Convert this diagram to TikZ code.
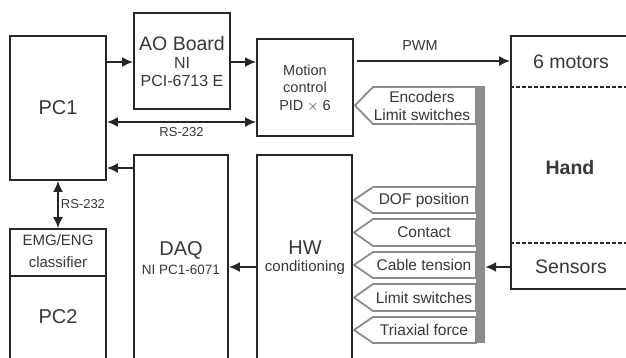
\documentclass[tikz,border=0pt]{standalone}
\usepackage{fontspec}
\setmainfont{Liberation Sans}
\usetikzlibrary{arrows.meta}
\begin{document}
\begin{tikzpicture}[x=1pt,y=-1pt,
  box/.style={draw=black!85,line width=1.8pt,inner sep=0pt,fill=white},
  arr/.style={line width=1.8pt,draw=black!85,-{Latex[length=11pt,width=10pt]}},
  darr/.style={line width=1.8pt,draw=black!85,{Latex[length=11pt,width=10pt]}-{Latex[length=11pt,width=10pt]}},
  tagshape/.style={draw=black!45,line width=1.8pt,fill=white,line join=miter},
  txt/.style={text=black!78,inner sep=0pt,align=center},
  dsh/.style={line width=1.5pt,draw=black!85,dash pattern=on 4pt off 2pt}]
\useasboundingbox (0,0) rectangle (626,357);
\clip (0,0) rectangle (626,357);
% boxes
\node[box,minimum width=96pt,minimum height=144pt] (pc1) at (58,108) {};
\node[box,minimum width=96pt,minimum height=96pt] (ao) at (182,61) {};
\node[box,minimum width=96pt,minimum height=97pt] (mc) at (305,87.5) {};
\node[box,minimum width=94pt,minimum height=210pt] (daq) at (181,260) {};
\node[box,minimum width=95pt,minimum height=210pt] (hw) at (304.5,260) {};
\node[box,minimum width=96pt,minimum height=47pt] (emg) at (58,252.5) {};
\node[box,minimum width=96pt,minimum height=90pt] (pc2) at (58,321) {};
\node[box,minimum width=130pt,minimum height=253pt] (hand) at (576,162.5) {};
\draw[dsh] (hand.west |- 0,87) coordinate (d1) -- (hand.east |- 0,87);
\draw[dsh] (hand.west |- 0,243) coordinate (d2) -- (hand.east |- 0,243);
% gray bar
\node[fill=black!45,inner sep=0pt,minimum width=9pt,minimum height=257pt] (bar) at (480.5,214.5) {};
% texts
\node[txt,font=\fontsize{20}{24}\selectfont] (tpc1) at (58,108) {PC1};
\node[txt,font=\fontsize{19.5}{20}\selectfont] (tao) at (182,44) {AO Board};
\node[txt,font=\fontsize{16}{18.5}\selectfont] (tao2) at (182,72) {NI\\PCI-6713 E};
\node[txt,font=\fontsize{14.5}{17.5}\selectfont] (tmc) at (305,88) {Motion\\control\\PID $\times$ 6};
\node[txt,font=\fontsize{20}{24}\selectfont] (tdaq) at (181,250) {DAQ};
\node[txt,font=\fontsize{13.5}{14}\selectfont] (tdaq2) at (181,270) {NI PC1-6071};
\node[txt,font=\fontsize{20}{24}\selectfont] (thw) at (305,248) {HW};
\node[txt,font=\fontsize{15}{14}\selectfont] (thw2) at (305,268) {conditioning};
\node[txt,font=\fontsize{15}{22}\selectfont] (temg) at (58,251) {EMG/ENG\\classifier};
\node[txt,font=\fontsize{20}{24}\selectfont] (tpc2) at (58,317) {PC2};
\node[txt,font=\fontsize{19.5}{20}\selectfont] (tmot) at (571,62) {6 motors};
\node[txt,font=\bfseries\fontsize{19.5}{20}\selectfont] (thand) at (570,168) {Hand};
\node[txt,font=\fontsize{19.5}{20}\selectfont] (tsen) at (571,267) {Sensors};
% tags
\draw[tagshape] (355,105.5) coordinate (tipA) -- (373,87) -- (476,87) -- (476,124) -- (373,124) -- cycle;
\node[txt,font=\fontsize{15.5}{18}\selectfont] (tenc) at (422,106) {Encoders\\Limit switches};
\foreach \n/\t/\b/\lab in {dof/187/213/DOF position,con/219/246/Contact,cab/252/278/Cable tension,lim/284/311/Limit switches,tri/317/343/Triaxial force}{
  \draw[tagshape] (354,{(\t+\b)/2}) coordinate (tip\n) -- (373,\t) -- (476,\t) -- (476,\b) -- (373,\b) -- cycle;
  \node[txt,font=\fontsize{15.5}{16}\selectfont] (t\n) at (424,{(\t+\b)/2}) {\lab};
}
% arrows
\draw[arr] (pc1.east |- 0,62) -- (ao.west |- 0,62);
\draw[arr] (ao.east |- 0,62) -- (mc.west |- 0,62);
\draw[darr] (pc1.east |- 0,122) -- (mc.west |- 0,122) node[pos=0.5,below=5pt,txt,font=\fontsize{13}{14}\selectfont] (lrs1) {RS-232};
\draw[arr] ([xshift=3pt]mc.east |- 0,61) -- (hand.west |- 0,61);
\node[txt,font=\fontsize{14.5}{14}\selectfont] (lpwm) at (420,46) {PWM};
\draw[arr] (daq.west |- 0,168) -- (pc1.east |- 0,168);
\draw[arr] (hw.west |- 0,267) -- (daq.east |- 0,267);
\draw[arr] (hand.west |- 0,267) -- (bar.east |- 0,267);
\draw[darr] (pc1.south -| 58,0) -- (emg.north -| 58,0) node[midway,right=2pt,txt,font=\fontsize{13}{14}\selectfont] (lrs2) {RS-232};
\end{tikzpicture}
\end{document}
